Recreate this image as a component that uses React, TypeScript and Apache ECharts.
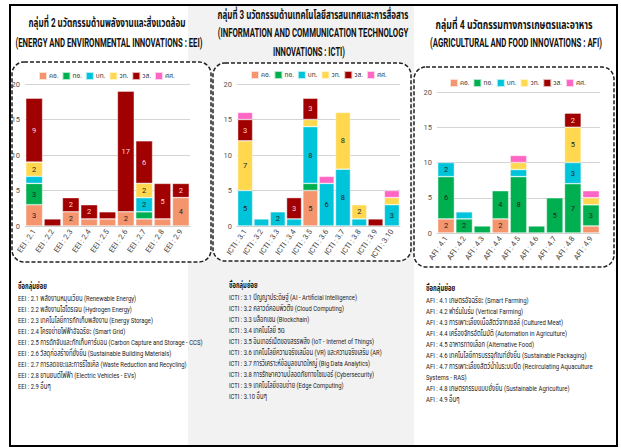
import React, { useEffect, useRef } from 'react';
import * as echarts from 'echarts';

const FONT = 'Roboto, "Noto Sans Thai", "Noto Sans", sans-serif';

const seriesNames = ['คอ.', 'ทอ.', 'บท.', 'วท.', 'วส.', 'ศศ.'];
const seriesColors = ['#F4956E', '#00B050', '#00C5DA', '#FFD84F', '#A00000', '#FF66C4'];

const categoriesEEI = ['EEI : 2.1', 'EEI : 2.2', 'EEI : 2.3', 'EEI : 2.4', 'EEI : 2.5', 'EEI : 2.6', 'EEI : 2.7', 'EEI : 2.8', 'EEI : 2.9'];
const eeiKO = [3, 0, 2, 1, 1, 2, 1, 1, 4];
const eeiTO = [3, 0, 0, 0, 0, 0, 1, 0, 0];
const eeiBT = [1, 0, 0, 0, 0, 0, 2, 0, 0];
const eeiWT = [2, 0, 0, 0, 0, 0, 2, 0, 0];
const eeiWS = [9, 1, 2, 2, 1, 17, 6, 5, 2];
const eeiSS = [0, 0, 0, 0, 0, 0, 0, 0, 0];

const categoriesICTI = ['ICTI : 3.1', 'ICTI : 3.2', 'ICTI : 3.3', 'ICTI : 3.4', 'ICTI : 3.5', 'ICTI : 3.6', 'ICTI : 3.7', 'ICTI : 3.8', 'ICTI : 3.9', 'ICTI : 3.10'];
const ictiKO = [0, 0, 0, 0, 5, 0, 0, 0, 0, 0];
const ictiTO = [0, 0, 0, 0, 1, 0, 0, 0, 0, 0];
const ictiBT = [5, 1, 2, 1, 8, 6, 8, 1, 0, 3];
const ictiWT = [7, 0, 0, 0, 1, 0, 8, 2, 0, 1];
const ictiWS = [3, 0, 0, 3, 3, 0, 0, 0, 1, 0];
const ictiSS = [1, 0, 0, 0, 0, 1, 0, 0, 0, 1];

const categoriesAFI = ['AFI : 4.1', 'AFI : 4.2', 'AFI : 4.3', 'AFI : 4.4', 'AFI : 4.5', 'AFI : 4.6', 'AFI : 4.7', 'AFI : 4.8', 'AFI : 4.9'];
const afiKO = [2, 0, 0, 2, 0, 0, 0, 0, 1];
const afiTO = [6, 2, 1, 4, 8, 1, 5, 7, 3];
const afiBT = [2, 1, 0, 0, 1, 0, 0, 3, 0];
const afiWT = [0, 0, 0, 0, 1, 0, 0, 5, 1];
const afiWS = [0, 0, 0, 0, 0, 0, 0, 2, 0];
const afiSS = [0, 0, 0, 0, 1, 0, 0, 0, 1];

const yTicks = [0, 5, 10, 15, 20];

const titleEEI = ['กลุ่มที่ 2 นวัตกรรมด้านพลังงานและสิ่งแวดล้อม', '(ENERGY AND ENVIRONMENTAL INNOVATIONS : EEI)'];
const titleICTI = ['กลุ่มที่ 3 นวัตกรรมด้านเทคโนโลยีสารสนเทศและการสื่อสาร', '(INFORMATION AND COMMUNICATION TECHNOLOGY', 'INNOVATIONS : ICTI)'];
const titleAFI = ['กลุ่มที่ 4 นวัตกรรมทางการเกษตรและอาหาร', '(AGRICULTURAL AND FOOD INNOVATIONS : AFI)'];

const listHeading = 'ชื่อกลุ่มย่อย';
const listEEI = [
  'EEI : 2.1 พลังงานหมุนเวียน (Renewable Energy)',
  'EEI : 2.2 พลังงานไฮโดรเจน (Hydrogen Energy)',
  'EEI : 2.3 เทคโนโลยีการกักเก็บพลังงาน (Energy Storage)',
  'EEI : 2.4 โครงข่ายไฟฟ้าอัจฉริยะ (Smart Grid)',
  'EEI : 2.5 การดักจับและกักเก็บคาร์บอน (Carbon Capture and Storage - CCS)',
  'EEI : 2.6 วัสดุก่อสร้างที่ยั่งยืน (Sustainable Building Materials)',
  'EEI : 2.7 การลดขยะและการรีไซเคิล (Waste Reduction and Recycling)',
  'EEI : 2.8 ยานยนต์ไฟฟ้า (Electric Vehicles - EVs)',
  'EEI : 2.9 อื่นๆ',
];
const listICTI = [
  'ICTI : 3.1 ปัญญาประดิษฐ์ (AI - Artificial Intelligence)',
  'ICTI : 3.2 คลาวด์คอมพิวติ้ง (Cloud Computing)',
  'ICTI : 3.3 บล็อกเชน (Blockchain)',
  'ICTI : 3.4 เทคโนโลยี 5G',
  'ICTI : 3.5 อินเทอร์เน็ตของสรรพสิ่ง (IoT - Internet of Things)',
  'ICTI : 3.6 เทคโนโลยีความจริงเสมือน (VR) และความจริงเสริม (AR)',
  'ICTI : 3.7 การวิเคราะห์ข้อมูลขนาดใหญ่ (Big Data Analytics)',
  'ICTI : 3.8 การรักษาความปลอดภัยทางไซเบอร์ (Cybersecurity)',
  'ICTI : 3.9 เทคโนโลยีขอบข่าย (Edge Computing)',
  'ICTI : 3.10 อื่นๆ',
];
const listAFI = [
  'AFI : 4.1 เกษตรอัจฉริยะ (Smart Farming)',
  'AFI : 4.2 ฟาร์มในร่ม (Vertical Farming)',
  'AFI : 4.3 การเพาะเลี้ยงเนื้อสัตว์จากเซลล์ (Cultured Meat)',
  'AFI : 4.4 เครื่องจักรอัตโนมัติ (Automation in Agriculture)',
  'AFI : 4.5 อาหารทางเลือก (Alternative Food)',
  'AFI : 4.6 เทคโนโลยีการบรรจุภัณฑ์ยั่งยืน (Sustainable Packaging)',
  'AFI : 4.7 การเพาะเลี้ยงสัตว์น้ำในระบบปิด (Recirculating Aquaculture',
  'Systems - RAS)',
  'AFI : 4.8 เกษตรกรรมแบบยั่งยืน (Sustainable Agriculture)',
  'AFI : 4.9 อื่นๆ',
];

let measureCtx: CanvasRenderingContext2D | null = null;
function textWidth(text: string, font: string): number {
  if (!measureCtx) measureCtx = document.createElement('canvas').getContext('2d');
  if (!measureCtx) return text.length * 5;
  measureCtx.font = font;
  return measureCtx.measureText(text).width || 1;
}

function fitText(text: string, x: number, y: number, size: number, weight: string, target: number, align: string) {
  const font = `${weight} ${size}px ${FONT}`;
  const w = textWidth(text, font);
  const s = Math.max(0.35, Math.min(1.4, target / w));
  return {
    type: 'text',
    x,
    y,
    scaleX: s,
    z: 20,
    style: {
      text,
      fontSize: size,
      fontWeight: weight,
      fontFamily: FONT,
      fill: '#111',
      textAlign: align,
      align,
      textVerticalAlign: 'middle',
      verticalAlign: 'middle',
    },
  };
}

function listTexts(lines: string[], x: number, y0: number, step: number, target: number, headingY: number) {
  const size = 8;
  const font = `normal ${size}px ${FONT}`;
  const maxW = Math.max(...lines.map((l) => textWidth(l, font)));
  const s = Math.max(0.35, Math.min(1.2, target / maxW));
  const els: any[] = [];
  const hw = textWidth(listHeading, `bold ${size}px ${FONT}`);
  els.push({
    type: 'text', x, y: headingY, scaleX: Math.min(s, 36 / hw), z: 20,
    style: { text: listHeading, fontSize: size, fontWeight: 'bold', fontFamily: FONT, fill: '#111', textAlign: 'left', align: 'left', textVerticalAlign: 'middle', verticalAlign: 'middle' },
  });
  lines.forEach((l, i) => {
    els.push({
      type: 'text', x, y: y0 + i * step, scaleX: s, z: 20,
      style: { text: l, fontSize: size, fontFamily: FONT, fill: '#222', textAlign: 'left', align: 'left', textVerticalAlign: 'middle', verticalAlign: 'middle' },
    });
  });
  return els;
}

const toData = (arr: number[]) => arr.map((v) => (v === 0 ? '-' : v));

export default function App() {
  const ref = useRef<HTMLDivElement>(null);
  useEffect(() => {
    if (!ref.current) return;
    const chart = echarts.init(ref.current, undefined, { renderer: 'svg' });

    const groups = [
      { cats: categoriesEEI, data: [eeiKO, eeiTO, eeiBT, eeiWT, eeiWS, eeiSS], grid: { left: 25, top: 84, width: 165, height: 142 }, legend: { left: 38, top: 71 } },
      { cats: categoriesICTI, data: [ictiKO, ictiTO, ictiBT, ictiWT, ictiWS, ictiSS], grid: { left: 237, top: 84, width: 163, height: 142 }, legend: { left: 250, top: 70 } },
      { cats: categoriesAFI, data: [afiKO, afiTO, afiBT, afiWT, afiWS, afiSS], grid: { left: 437, top: 92, width: 163, height: 141 }, legend: { left: 449, top: 78 } },
    ];

    const grid: any[] = [];
    const xAxis: any[] = [];
    const yAxis: any[] = [];
    const legend: any[] = [];
    const series: any[] = [];

    groups.forEach((g, gi) => {
      grid.push({ ...g.grid, containLabel: false });
      xAxis.push({
        type: 'category', gridIndex: gi, data: g.cats,
        axisTick: { show: false },
        axisLine: { show: true, lineStyle: { color: '#cfcfcf' } },
        axisLabel: { rotate: 55, interval: 0, fontSize: 7.5, color: '#444', fontFamily: FONT, margin: 4 },
      });
      yAxis.push({
        type: 'value', gridIndex: gi, min: yTicks[0], max: yTicks[yTicks.length - 1], interval: 5,
        axisLine: { show: false }, axisTick: { show: false },
        axisLabel: { fontSize: 7.5, color: '#555', fontFamily: FONT, margin: 5 },
        splitLine: { lineStyle: { color: '#d4d4d4', width: 1 } },
      });
      legend.push({
        data: seriesNames, left: g.legend.left, top: g.legend.top, padding: 0,
        itemWidth: 8, itemHeight: 8, itemGap: 3, icon: 'rect',
        textStyle: { fontSize: 6.5, color: '#333', fontFamily: FONT, width: 12, overflow: 'none', padding: [0, 0, 0, -3] },
        selectedMode: false,
      });
      seriesNames.forEach((name, si) => {
        series.push({
          type: 'bar', name, stack: 'g' + gi, xAxisIndex: gi, yAxisIndex: gi,
          data: toData(g.data[si]),
          barCategoryGap: '8%',
          itemStyle: { color: seriesColors[si], borderColor: 'rgba(255,255,255,0.7)', borderWidth: 0.6 },
          label: {
            show: true, position: 'inside', fontSize: 7.5, fontFamily: FONT,
            color: si === 4 ? '#ffd6dc' : '#222',
            formatter: (p: any) => (typeof p.value === 'number' && p.value >= 2 ? String(p.value) : ''),
          },
        });
      });
    });

    const graphic: any[] = [
      { type: 'rect', z: -20, shape: { x: 188, y: 5, width: 226, height: 442 }, style: { fill: '#f2f2f2' } },
      { type: 'rect', z: -10, shape: { x: 12, y: 62, width: 199, height: 200, r: 12 }, style: { fill: '#ffffff', stroke: '#222', lineWidth: 1.5, lineDash: [4, 2] } },
      { type: 'rect', z: -10, shape: { x: 213, y: 63, width: 198, height: 198, r: 12 }, style: { fill: '#ffffff', stroke: '#222', lineWidth: 1.5, lineDash: [4, 2] } },
      { type: 'rect', z: -10, shape: { x: 414, y: 67, width: 200, height: 200, r: 12 }, style: { fill: '#ffffff', stroke: '#222', lineWidth: 1.5, lineDash: [4, 2] } },
      { type: 'rect', z: 30, shape: { x: 10, y: 5, width: 607, height: 441 }, style: { fill: 'none', stroke: '#000', lineWidth: 2 } },
      fitText(titleEEI[0], 107, 23, 12, 'bold', 157, 'center'),
      fitText(titleEEI[1], 109, 43, 12, 'bold', 187, 'center'),
      fitText(titleICTI[0], 313, 15, 12, 'bold', 191, 'center'),
      fitText(titleICTI[1], 313, 33, 12, 'bold', 191, 'center'),
      fitText(titleICTI[2], 309, 52, 12, 'bold', 72, 'center'),
      fitText(titleAFI[0], 514, 25, 12, 'bold', 157, 'center'),
      fitText(titleAFI[1], 516, 43, 12, 'bold', 172, 'center'),
      ...listTexts(listEEI, 18, 298, 11, 185, 286),
      ...listTexts(listICTI, 229, 298, 11, 153, 286),
      ...listTexts(listAFI, 426, 300, 11, 167, 288),
    ];

    chart.setOption({
      animation: false,
      backgroundColor: '#ffffff',
      textStyle: { fontFamily: FONT },
      grid, xAxis, yAxis, legend, series, graphic,
    });
    return () => chart.dispose();
  }, []);
  return <div ref={ref} style={{ position: 'fixed', left: 0, top: 0, width: 621, height: 448 }} />;
}
